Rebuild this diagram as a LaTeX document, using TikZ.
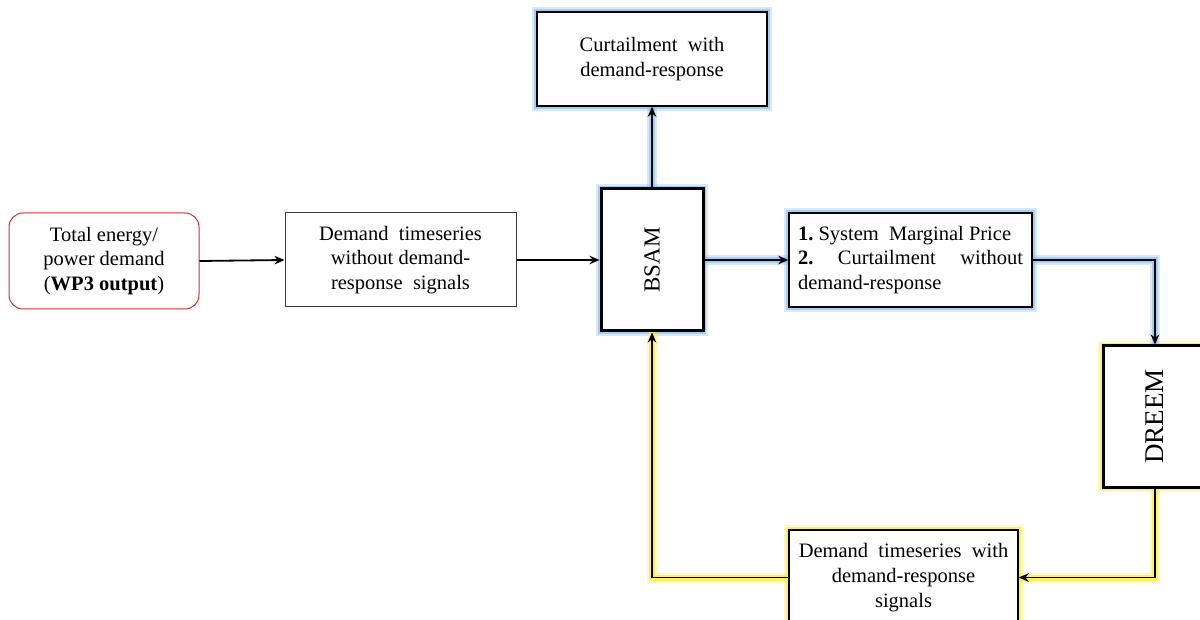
\documentclass[tikz,border=0pt]{standalone}
\usepackage{fontspec}
\setmainfont{Liberation Serif}
\usetikzlibrary{arrows.meta}

\definecolor{glowblue}{HTML}{7DB8F0}
\definecolor{glowyellow}{HTML}{FFE830}
\definecolor{boxred}{HTML}{D03030}
\definecolor{boxgray}{HTML}{3A3A3A}

\tikzset{
  txt/.style={font=\fontsize{20.5}{24.6}\selectfont, align=center, inner sep=0pt},
  plainbox/.style={txt, draw=boxgray, line width=1pt, fill=white},
  inputbox/.style={txt, draw=boxred, line width=1pt, rounded corners=14pt, fill=white},
  modelbox/.style={draw=black, line width=3pt, fill=white, inner sep=0pt},
  bglow/.style={preaction={draw=glowblue, line width=10pt, opacity=.3, arrows=-},
                preaction={draw=glowblue, line width=6pt, opacity=.55, arrows=-}},
  yglow/.style={preaction={draw=glowyellow, line width=10pt, opacity=.3, arrows=-},
                preaction={draw=glowyellow, line width=6pt, opacity=.6, arrows=-}},
  link/.style={draw=black, line width=1.8pt, -{Stealth[length=10pt,width=8.5pt]}},
}

\begin{document}
\begin{tikzpicture}[x=1pt, y=-1pt]
\useasboundingbox (0,0) rectangle (1200,620);
\clip (0,0) rectangle (1200,620);

% input and pre-processing
\node[inputbox, minimum width=190pt, minimum height=96pt] (tot) at (104,261)
  {Total energy/\\power demand\\(\textbf{WP3 output})};
\node[plainbox, minimum width=231pt, minimum height=94pt] (dts) at (400.5,260)
  {Demand\ \ timeseries\\without demand-\\response\ \ signals};

% market model and its outputs
\node[modelbox, bglow, minimum width=102pt, minimum height=142pt] (bsam) at (652,260)
  {\rotatebox{90}{\fontsize{23}{27}\selectfont BSAM}};
\node[plainbox, draw=black, line width=1.5pt, bglow, minimum width=230pt, minimum height=94pt] (cur) at (652,59)
  {Curtailment\ \ with\\demand-response};
\node[plainbox, draw=black, line width=1.5pt, bglow, minimum width=243pt, minimum height=94pt] (smp) at (910.5,260)
  {\parbox{225pt}{\raggedright
    \textbf{1.}\ System\ \ Marginal\ Price\\
    \textbf{2.}\hfill Curtailment\hfill without\\
    demand-response}};

% demand-response model and its feedback
\node[modelbox, yglow, minimum width=104pt, minimum height=141pt] (dreem) at (1155,416.5)
  {\rotatebox{90}{\fontsize{27}{31}\selectfont DREEM}};
\node[plainbox, draw=black, line width=1.5pt, yglow, minimum width=229pt, minimum height=95pt] (dtw) at (903.5,577.5)
  {Demand\ \ timeseries\ \ with\\demand-response\\signals};

% connectors
\draw[link] (tot.east) -- (dts.west);
\draw[link] (dts.east) -- (bsam.west);
\draw[link, bglow] (bsam.north) -- (cur.south);
\draw[link, bglow] (bsam.east) -- (smp.west);
\draw[link, bglow] (smp.east) -| (dreem.north);
\draw[link, yglow] (dreem.south) |- (dtw.east);
\draw[link, yglow] (dtw.west) -| (bsam.south);
\end{tikzpicture}
\end{document}
